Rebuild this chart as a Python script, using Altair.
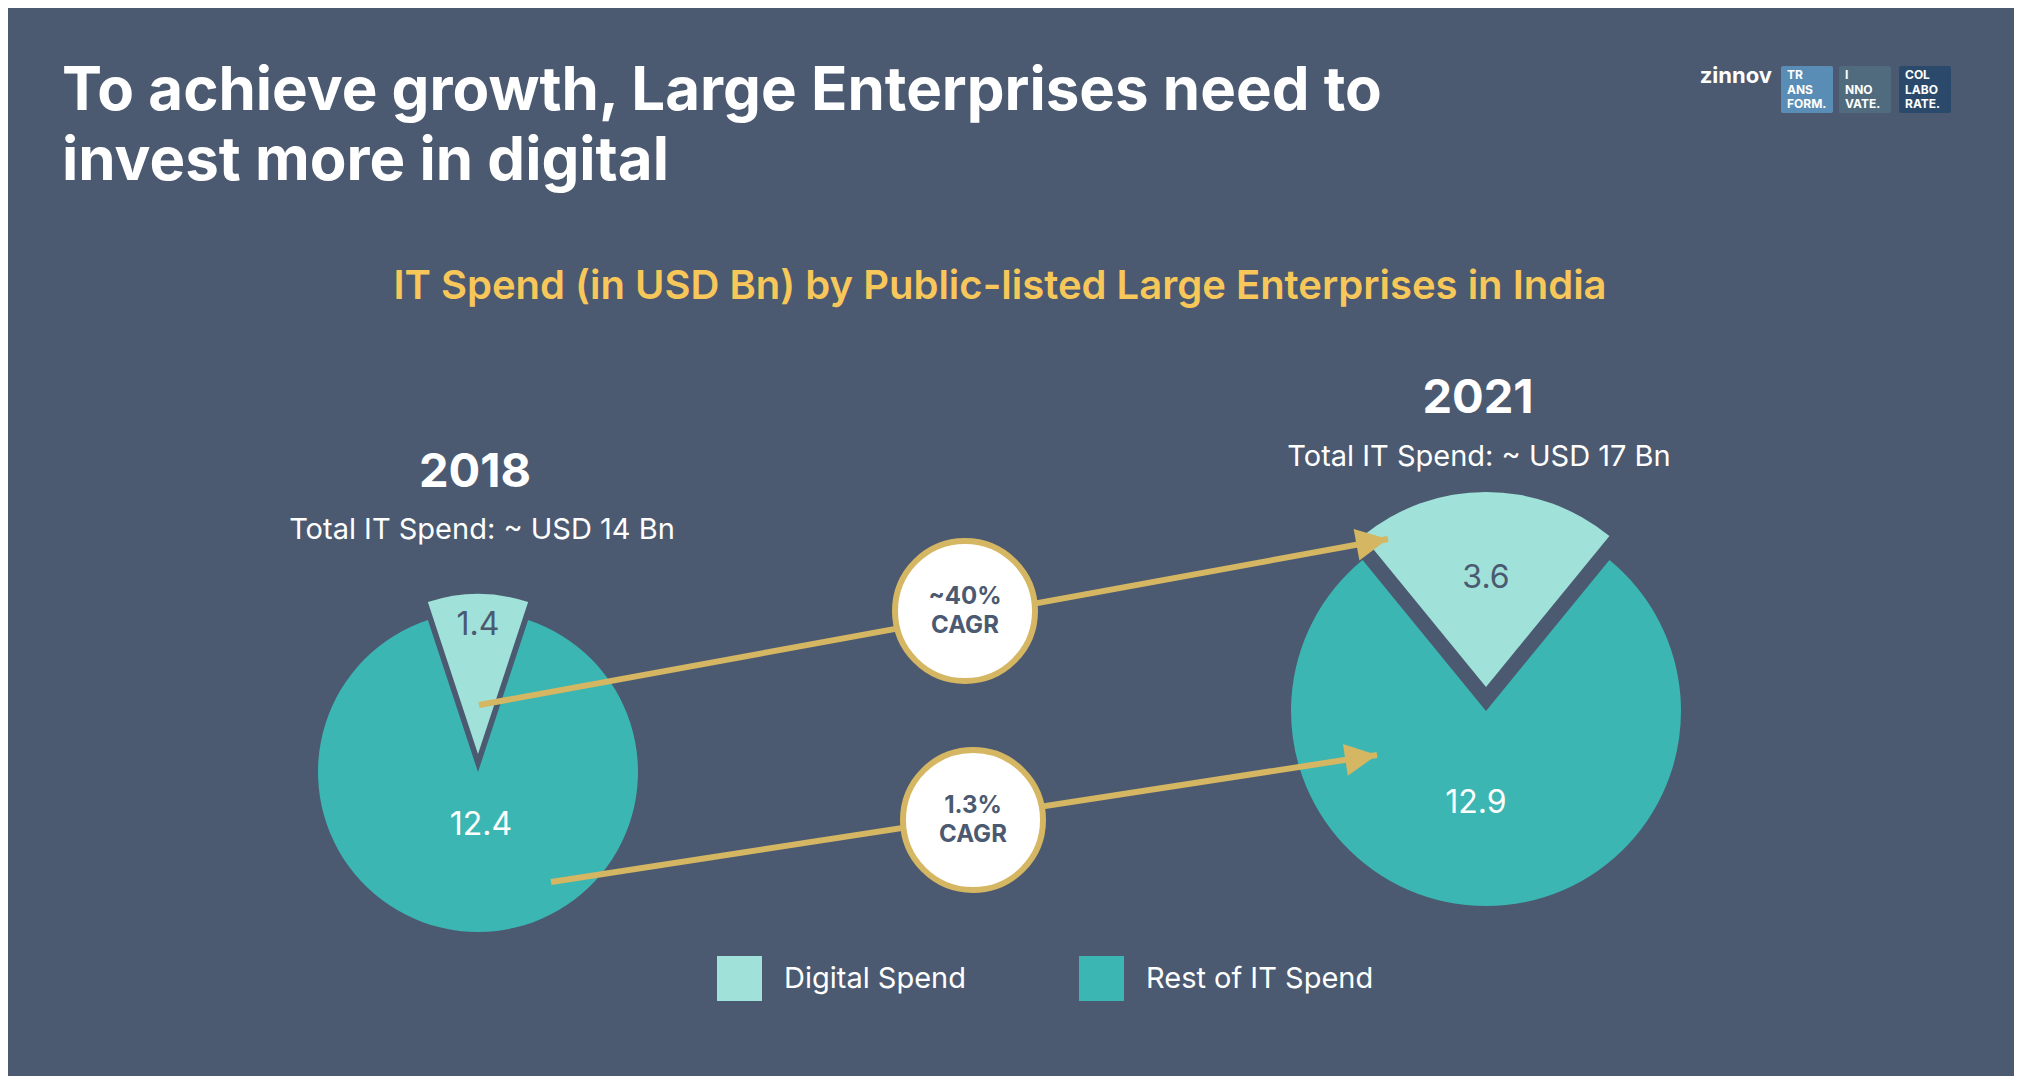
import math
import altair as alt
import pandas as pd

# ---------------- data ----------------
years = ["2018", "2021"]
segments = ["Digital Spend", "Rest of IT Spend"]
digital_spend = [1.4, 3.6]
rest_spend = [12.4, 12.9]
total_labels = ["Total IT Spend: ~ USD 14 Bn", "Total IT Spend: ~ USD 17 Bn"]
cagr_values = ["~40%", "1.3%"]
title_lines = ["To achieve growth, Large Enterprises need to", "invest more in digital"]
subtitle = "IT Spend (in USD Bn) by Public-listed Large Enterprises in India"
logo_word = "zinnov"
logo_boxes = [["TR", "ANS", "FORM."], ["I", "NNO", "VATE."], ["COL", "LABO", "RATE."]]

# ---------------- styles / layout ----------------
W, H = 2006, 1068
BG = "#4b5a70"
LIGHT = "#a0e2d9"
TEAL = "#3bb6b2"
GOLD = "#d5b662"
YELLOW = "#f8c75a"
FONT = "Inter"
LOGO_COLORS = ["#5a8db5", "#4f6b7d", "#2b4a6b"]

pies = {
    "2018": dict(cx=470, cy=764, r=160, explode=18, year_y=479, total_x=474, total_y=531,
                 year_x=467, dig_r=129, rest_r=53, rest_dx=3),
    "2021": dict(cx=1478, cy=703, r=195, explode=24, year_y=405, total_x=1471, total_y=458,
                 year_x=1470, dig_r=109, rest_r=92, rest_dx=-10),
}
arrows = [  # (start, tip) of the connectors
    ((471, 697), (1380, 531)),
    ((543, 874), (1369, 747)),
]
cagr_pos = [(957, 603), (965, 812)]

rows = []
for i, y in enumerate(years):
    rows.append({"year": y, "segment": segments[0], "value": digital_spend[i]})
    rows.append({"year": y, "segment": segments[1], "value": rest_spend[i]})
df = pd.DataFrame(rows)

color = alt.Color(
    "segment:N",
    scale=alt.Scale(domain=segments, range=[LIGHT, TEAL]),
    legend=alt.Legend(
        orient="none", legendX=709, legendY=948, direction="horizontal", title=None,
        symbolType="square", symbolSize=2025, symbolStrokeWidth=0, symbolOpacity=1,
        labelFontSize=29, labelColor="white", labelFont=FONT, labelOffset=22,
        columnPadding=112, padding=0, labelLimit=400,
    ),
)

layers = []
for y in years:
    p = pies[y]
    base = (
        alt.Chart(df)
        .transform_filter(alt.datum.year == y)
        .transform_joinaggregate(total="sum(value)")
        .transform_calculate(dv=f"datum.segment === '{segments[0]}' ? datum.value : 0")
        .transform_joinaggregate(dsum="sum(dv)")
        .transform_calculate(
            half="PI * datum.dsum / datum.total",
            t0=f"datum.segment === '{segments[0]}' ? -datum.half : datum.half",
            t1=f"datum.segment === '{segments[0]}' ? datum.half : 2 * PI - datum.half",
            mid=f"datum.segment === '{segments[0]}' ? 0 : PI",
        )
    )
    rest = base.transform_filter(alt.datum.segment == segments[1])
    dig = base.transform_filter(alt.datum.segment == segments[0])
    layers.append(
        rest.mark_arc(radius=p["r"], stroke=None).encode(
            theta=alt.Theta("t0:Q", scale=None, stack=None),
            theta2="t1:Q",
            color=color,
            x=alt.value(p["cx"]), y=alt.value(p["cy"]),
        )
    )
    layers.append(
        dig.mark_arc(radius=p["r"], stroke=None).encode(
            theta=alt.Theta("t0:Q", scale=None, stack=None),
            theta2="t1:Q",
            color=color,
            x=alt.value(p["cx"]), y=alt.value(p["cy"] - p["explode"]),
        )
    )
    layers.append(
        rest.mark_text(font=FONT, fontSize=32, color="white", baseline="middle", align="center",
                       dx=p["rest_dx"]).encode(
            theta=alt.Theta("mid:Q", scale=None, stack=None),
            radius=alt.value(p["rest_r"]),
            text=alt.Text("value:Q", format=".1f"),
            x=alt.value(p["cx"]), y=alt.value(p["cy"]),
        )
    )
    layers.append(
        dig.mark_text(font=FONT, fontSize=32, color=BG, baseline="middle", align="center").encode(
            theta=alt.Theta("mid:Q", scale=None, stack=None),
            radius=alt.value(p["dig_r"]),
            text=alt.Text("value:Q", format=".1f"),
            x=alt.value(p["cx"]), y=alt.value(p["cy"] - p["explode"]),
        )
    )

blank = alt.Chart(pd.DataFrame({"k": [0]}))

def text(t, x, y, size, color="white", weight="normal", align="left", baseline="alphabetic"):
    return blank.mark_text(
        text=t, font=FONT, fontSize=size, fontWeight=weight, color=color,
        align=align, baseline=baseline,
    ).encode(x=alt.value(x), y=alt.value(y))

# year headers and totals
for i, y in enumerate(years):
    p = pies[y]
    layers.append(text(y, p["year_x"], p["year_y"], 47, weight="bold", align="center"))
    layers.append(text(total_labels[i], p["total_x"], p["total_y"], 29, align="center"))

# connectors
for (x0, y0), (x1, y1) in arrows:
    layers.append(
        blank.mark_rule(color=GOLD, strokeWidth=6).encode(
            x=alt.value(x0), y=alt.value(y0), x2=alt.value(x1), y2=alt.value(y1)
        )
    )
    ang = math.degrees(math.atan2(y1 - y0, x1 - x0)) % 360
    layers.append(
        blank.mark_point(
            shape="M0,0L-2,-1L-2,1Z", size=1024, filled=True, fill=GOLD,
            strokeWidth=0, opacity=1, angle=ang,
        ).encode(x=alt.value(x1), y=alt.value(y1))
    )

# CAGR bubbles
for (cx, cy), v in zip(cagr_pos, cagr_values):
    layers.append(
        blank.mark_point(
            shape="circle", size=19600, filled=True, fill="white", stroke=GOLD,
            strokeWidth=6, opacity=1,
        ).encode(x=alt.value(cx), y=alt.value(cy))
    )
    layers.append(text(v, cx, cy - 14, 24, color=BG, weight="bold", align="center", baseline="middle"))
    layers.append(text("CAGR", cx, cy + 15, 24, color=BG, weight="bold", align="center", baseline="middle"))

# titles
layers.append(text(title_lines[0], 54, 102, 60, weight="bold"))
layers.append(text(title_lines[1], 54, 172, 60, weight="bold"))
layers.append(text(subtitle, 992, 291, 40, color=YELLOW, weight=600, align="center"))

# logo
layers.append(text(logo_word, 1764, 75, 22, weight="bold", align="right"))
box_x = [1773, 1831, 1891]
for bx, lines, c in zip(box_x, logo_boxes, LOGO_COLORS):
    layers.append(
        blank.mark_rect(color=c, cornerRadius=2).encode(
            x=alt.value(bx), x2=alt.value(bx + 52), y=alt.value(58), y2=alt.value(105)
        )
    )
    layers.append(
        blank.mark_text(
            text=lines, font=FONT, fontSize=12, fontWeight="bold", color="white",
            align="left", baseline="alphabetic", lineHeight=14.5,
        ).encode(x=alt.value(bx + 6), y=alt.value(71))
    )

chart = (
    alt.layer(*layers)
    .properties(width=W, height=H, background=BG, padding=0, autosize=alt.AutoSizeParams(type="none"))
    .configure_view(stroke=None)
)

chart.save("out.html", embed_options={"renderer": "svg", "actions": False})
